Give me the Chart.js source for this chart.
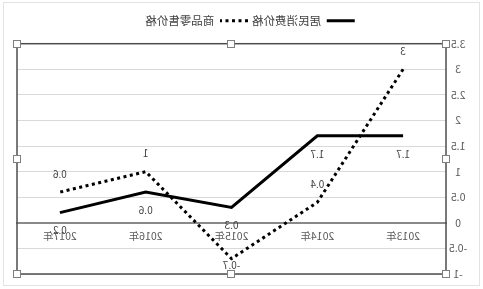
<!DOCTYPE html>
<html><head><meta charset="utf-8">
<script src="https://cdn.jsdelivr.net/npm/chart.js@4"></script>
<style>
html,body{margin:0;padding:0;background:#fff;}
#wrap{width:483px;height:289px;transform:scaleX(-1);}
canvas{display:block}
</style>
</head><body><div id="wrap"><canvas id="c" width="483" height="289"></canvas></div>
<script>
const categories = ['2013年', '2014年', '2015年', '2016年', '2017年'];
const cpiValues = [1.7, 1.7, 0.3, 0.6, 0.2];
const retailValues = [3, 0.4, -0.7, 1, 0.6];
const seriesNames = ['居民消费价格', '商品零售价格'];
const yMin = -1, yMax = 3.5, yStep = 0.5;

const FONT = '"Microsoft YaHei","Noto Sans CJK SC",sans-serif';

const bgPlugin = {
  id: 'bg',
  beforeDraw(chart) {
    const {ctx, width, height} = chart;
    ctx.save();
    ctx.fillStyle = '#fff';
    ctx.fillRect(0, 0, width, height);
    ctx.strokeStyle = '#e3e3e3';
    ctx.lineWidth = 1;
    ctx.strokeRect(3.5, 2.5, width - 7, height - 6);
    ctx.restore();
  }
};

const labelPlugin = {
  id: 'vlabels',
  afterDatasetsDraw(chart) {
    const {ctx, chartArea} = chart;
    ctx.save();
    ctx.font = '10px ' + FONT;
    ctx.fillStyle = '#404040';
    ctx.textAlign = 'center';
    ctx.textBaseline = 'middle';
    chart.data.datasets.forEach((ds, di) => {
      const meta = chart.getDatasetMeta(di);
      meta.data.forEach((pt, i) => {
        const v = ds.data[i];
        const side = v < 0 ? 'below' : ds.labelSide;
        let y = pt.y + (side === 'above' ? -18 : 18);
        y = Math.min(Math.max(y, chartArea.top + 7), chartArea.bottom - 9);
        ctx.fillText(String(v), pt.x, y);
      });
    });
    ctx.restore();
  }
};

const framePlugin = {
  id: 'frame',
  afterDraw(chart) {
    const {ctx, chartArea: a} = chart;
    ctx.save();
    ctx.strokeStyle = '#4d4d4d';
    ctx.lineWidth = 1.5;
    ctx.strokeRect(a.left, a.top, a.right - a.left, a.bottom - a.top);
    const mx = (a.left + a.right) / 2, my = (a.top + a.bottom) / 2;
    const pts = [[a.left, a.top], [mx, a.top], [a.right, a.top], [a.left, my], [a.right, my], [a.left, a.bottom], [mx, a.bottom], [a.right, a.bottom]];
    ctx.fillStyle = '#fff';
    ctx.strokeStyle = '#7f7f7f';
    ctx.lineWidth = 1;
    pts.forEach(([x, y]) => {
      ctx.fillRect(Math.round(x) - 3, Math.round(y) - 3, 6, 6);
      ctx.strokeRect(Math.round(x) - 3.5, Math.round(y) - 3.5, 7, 7);
    });
    ctx.restore();
  }
};

new Chart(document.getElementById('c'), {
  type: 'line',
  data: {
    labels: categories,
    datasets: [
      {
        label: seriesNames[0],
        data: cpiValues,
        borderColor: '#000',
        backgroundColor: '#000',
        borderWidth: 3,
        pointRadius: 0,
        pointStyle: 'line',
        tension: 0,
        labelSide: 'below'
      },
      {
        label: seriesNames[1],
        data: retailValues,
        borderColor: '#000',
        backgroundColor: '#000',
        borderWidth: 3,
        borderDash: [3, 3.5],
        pointRadius: 0,
        pointStyle: 'line',
        tension: 0,
        labelSide: 'above'
      }
    ]
  },
  options: {
    responsive: false,
    animation: false,
    devicePixelRatio: 1,
    layout: {padding: {left: 0, right: 17, top: 11, bottom: 15}},
    plugins: {
      legend: {
        position: 'top',
        labels: {
          usePointStyle: true,
          pointStyleWidth: 28,
          padding: 4,
          color: '#404040',
          font: {size: 11.5, family: FONT},
          generateLabels(chart) {
            return Chart.defaults.plugins.legend.labels.generateLabels(chart).map((l, i) => (
              Object.assign({}, l, {lineDash: chart.data.datasets[i].borderDash || [], lineWidth: 3})
            ));
          }
        }
      },
      subtitle: {
        display: true,
        text: ' ',
        weight: 500,
        font: {size: 1},
        padding: {top: 0, bottom: 6}
      },
      tooltip: {enabled: false}
    },
    scales: {
      x: {
        type: 'category',
        position: {y: 0},
        offset: true,
        grid: {display: false, drawTicks: false},
        border: {display: true, color: '#898989', width: 2},
        ticks: {padding: 7, color: '#595959', font: {size: 10.5, family: FONT}, maxRotation: 0}
      },
      y: {
        min: yMin,
        max: yMax,
        grid: {color: '#d9d9d9', lineWidth: 1, drawTicks: false},
        border: {display: false},
        afterFit(scale) { scale.width = 37; },
        ticks: {
          stepSize: yStep,
          padding: 3,
          crossAlign: 'center',
          color: '#595959',
          font: {size: 10.5, family: FONT},
          callback: v => String(Math.round(v * 10) / 10)
        }
      }
    }
  },
  plugins: [bgPlugin, labelPlugin, framePlugin]
});
</script>
</body></html>
